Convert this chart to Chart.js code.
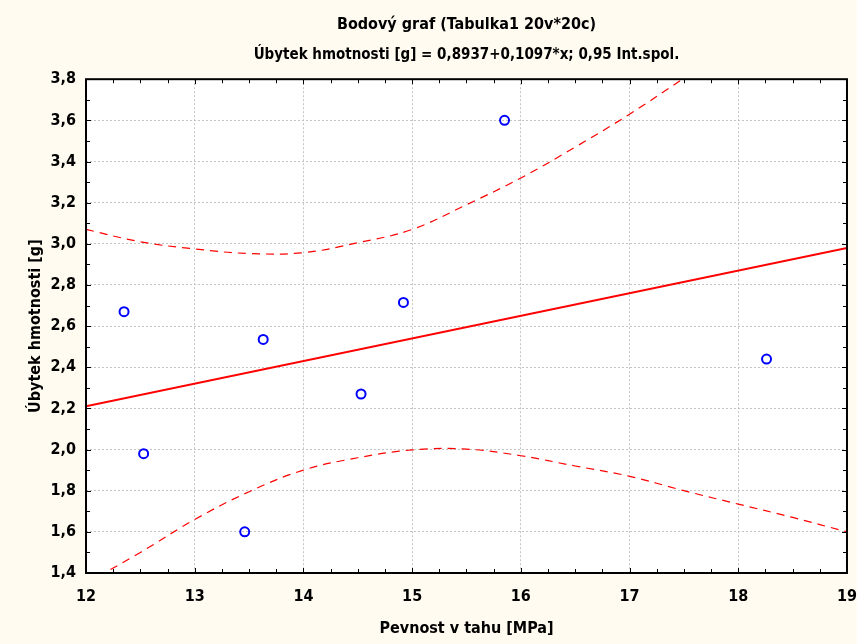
<!DOCTYPE html>
<html>
<head>
<meta charset="utf-8">
<script src="https://cdn.jsdelivr.net/npm/chart.js@4.4.1/dist/chart.umd.min.js"></script>
<style>
  html, body { margin: 0; padding: 0; background: #fff; }
</style>
</head>
<body>
<canvas id="chart" width="857" height="644"></canvas>
<script>
// measured points (Pevnost v tahu vs. Úbytek hmotnosti)
const strength = [12.35, 12.53, 13.46, 13.63, 14.53, 14.92, 15.85, 18.26];
const weightLoss = [2.67, 1.98, 1.60, 2.535, 2.27, 2.715, 3.60, 2.44];

// regression line, read at the plot edges
const fitX = [12, 19];
const fitY = [2.21, 2.98];

// 0.95 confidence band
const upperX = [12, 12.5, 13, 13.5, 14, 14.5, 15, 15.5, 16, 16.5, 17, 17.5];
const upperY = [3.07, 3.01, 2.975, 2.953, 2.957, 3.005, 3.07, 3.19, 3.32, 3.47, 3.63, 3.805];
const lowerX = [12, 12.5, 13, 13.5, 14, 14.5, 15, 15.5, 16, 16.5, 17, 17.5, 18, 18.5, 19];
const lowerY = [1.35, 1.50, 1.66, 1.795, 1.90, 1.96, 1.998, 2.002, 1.97, 1.92, 1.87, 1.80, 1.735, 1.67, 1.60];

const FONT = '"Liberation Sans Narrow", "DejaVu Sans Condensed", "Liberation Sans", sans-serif';

const toPoints = (xs, ys) => xs.map((x, i) => ({ x: x, y: ys[i] }));

const backdrop = {
    id: 'backdrop',
    beforeDraw(chart) {
        const { ctx, chartArea: a } = chart;
        ctx.save();
        ctx.fillStyle = '#fffbf0';
        ctx.fillRect(0, 0, chart.width, chart.height);
        ctx.fillStyle = '#ffffff';
        ctx.fillRect(a.left, a.top, a.right - a.left, a.bottom - a.top);
        ctx.restore();
    }
};

// black frame with inward tick marks on all four sides
const frame = {
    id: 'frame',
    afterDatasetsDraw(chart) {
        const { ctx, chartArea: a, scales: { x, y } } = chart;
        ctx.save();
        ctx.strokeStyle = '#000';
        ctx.lineWidth = 1;
        ctx.beginPath();
        for (let i = 0; i <= 28; i++) {
            const px = Math.round(x.getPixelForValue(12 + i * 0.25)) + 0.5;
            const len = i % 4 === 0 ? 5 : 4;
            ctx.moveTo(px, a.bottom); ctx.lineTo(px, a.bottom - len);
            ctx.moveTo(px, a.top); ctx.lineTo(px, a.top + len);
        }
        for (let i = 0; i <= 24; i++) {
            const py = Math.round(y.getPixelForValue(1.4 + i * 0.1)) + 0.5;
            const len = i % 2 === 0 ? 5 : 4;
            ctx.moveTo(a.left, py); ctx.lineTo(a.left + len, py);
            ctx.moveTo(a.right, py); ctx.lineTo(a.right - len, py);
        }
        ctx.stroke();
        ctx.lineWidth = 2;
        ctx.strokeRect(a.left, a.top, a.right - a.left, a.bottom - a.top);
        ctx.restore();
    }
};

new Chart(document.getElementById('chart'), {
    type: 'scatter',
    data: {
        datasets: [
            {
                label: 'data',
                data: toPoints(strength, weightLoss),
                pointStyle: 'circle',
                radius: 4.5,
                borderColor: '#0000ff',
                backgroundColor: 'rgba(0,0,0,0)',
                borderWidth: 2,
                order: 0
            },
            {
                label: 'fit',
                type: 'line',
                data: toPoints(fitX, fitY),
                borderColor: '#ff0000',
                borderWidth: 2,
                pointRadius: 0,
                fill: false,
                order: 1
            },
            {
                label: 'upper',
                type: 'line',
                data: toPoints(upperX, upperY),
                borderColor: '#ff0000',
                borderWidth: 1.2,
                borderDash: [8, 6],
                tension: 0.4,
                pointRadius: 0,
                fill: false,
                order: 2
            },
            {
                label: 'lower',
                type: 'line',
                data: toPoints(lowerX, lowerY),
                borderColor: '#ff0000',
                borderWidth: 1.2,
                borderDash: [8, 6],
                tension: 0.4,
                pointRadius: 0,
                fill: false,
                order: 2
            }
        ]
    },
    options: {
        responsive: false,
        animation: false,
        events: [],
        layout: { padding: { left: 0, right: 9, top: 0, bottom: 0 } },
        plugins: {
            legend: { display: false },
            tooltip: { enabled: false },
            title: {
                display: true,
                fullSize: false,
                text: 'Bodový graf (Tabulka1 20v*20c)',
                color: '#000',
                font: { family: FONT, size: 16, weight: 'bold' },
                padding: { top: 15, bottom: 5 }
            },
            subtitle: {
                display: true,
                fullSize: false,
                text: 'Úbytek hmotnosti [g] = 0,8937+0,1097*x; 0,95 Int.spol.',
                color: '#000',
                font: { family: FONT, size: 15, weight: 'bold' },
                padding: { top: 7, bottom: 15 }
            }
        },
        scales: {
            x: {
                type: 'linear',
                min: 12,
                max: 19,
                ticks: {
                    stepSize: 1,
                    color: '#000',
                    padding: 0,
                    font: { family: FONT, size: 16, weight: 'bold' }
                },
                grid: { color: '#c4c4c4', drawTicks: true, tickLength: 14, tickColor: 'rgba(0,0,0,0)' },
                border: { display: false, dash: [2, 2] },
                title: {
                    display: true,
                    text: 'Pevnost v tahu [MPa]',
                    color: '#000',
                    font: { family: FONT, size: 16, weight: 'bold' },
                    padding: { top: 0, bottom: 6 }
                },
                afterFit(scale) { scale.height = 71; }
            },
            y: {
                type: 'linear',
                min: 1.4,
                max: 3.8,
                ticks: {
                    stepSize: 0.2,
                    color: '#000',
                    padding: 10,
                    font: { family: FONT, size: 16, weight: 'bold' },
                    callback: v => v.toFixed(1).replace('.', ',')
                },
                grid: { color: '#c4c4c4', drawTicks: false },
                border: { display: false, dash: [2, 2] },
                title: {
                    display: true,
                    text: 'Úbytek hmotnosti [g]',
                    color: '#000',
                    font: { family: FONT, size: 16, weight: 'bold' },
                    padding: { top: 26, bottom: 0 }
                },
                afterFit(scale) { scale.width = 86; }
            }
        }
    },
    plugins: [backdrop, frame]
});
</script>
</body>
</html>
